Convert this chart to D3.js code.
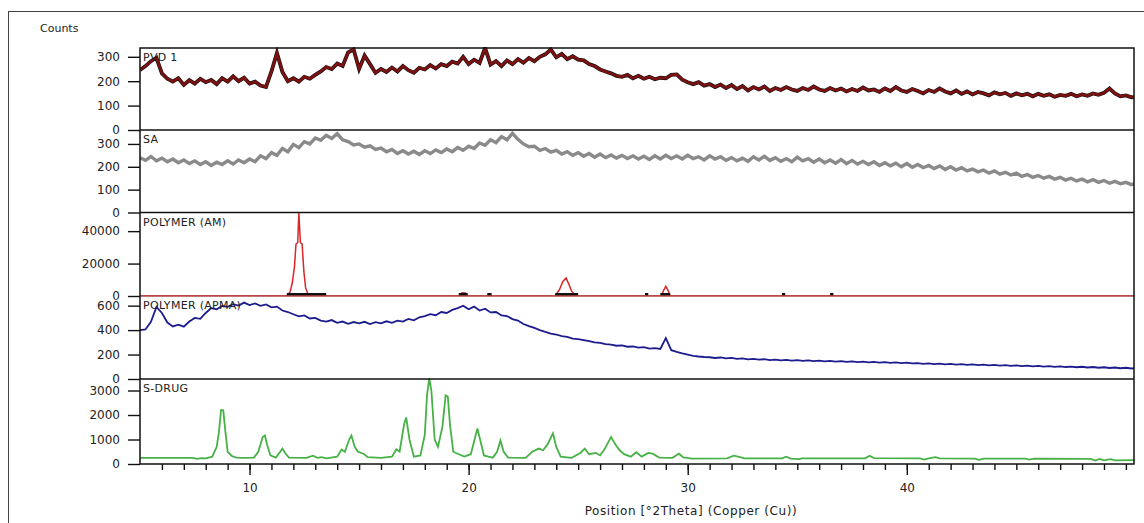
<!DOCTYPE html>
<html>
<head>
<meta charset="utf-8">
<script src="https://cdn.jsdelivr.net/npm/d3@7"></script>
<style>
  body { margin: 0; background: #fff; }
  text { font-family: "DejaVu Sans", sans-serif; fill: #222; }
</style>
</head>
<body>
<div id="chart"></div>
<script>
// scans, top to bottom
var panelNames = ["PVD 1", "SA", "POLYMER (AM)", "POLYMER (APMA)", "S-DRUG"];
var yMax = [336, 361, 51500, 679, 3470];
var yTicks = [[0, 100, 200, 300], [0, 100, 200, 300], [0, 20000, 40000], [0, 200, 400, 600], [0, 1000, 2000, 3000]];
var xMajorTicks = [10, 20, 30, 40];
var xMinorTicks = d3.range(6, 51);
var xTitle = "Position [°2Theta] (Copper (Cu))";
var yTitle = "Counts";

// noisy scans sampled every 0.25 °2Theta starting at 5
var scanStart = 5;
var scanStep = 0.25;

var pvd1 = [246, 262, 282, 296, 232, 210, 198, 212, 185, 204, 190, 210, 196, 205, 188, 212, 198, 220, 200, 214,
  190, 198, 182, 176, 240, 316, 238, 200, 212, 198, 218, 210, 226, 240, 258, 250, 272, 262, 318, 330,
  250, 305, 270, 234, 250, 238, 256, 240, 262, 245, 235, 255, 248, 266, 252, 270, 262, 280, 272, 300,
  270, 288, 275, 336, 268, 282, 262, 285, 270, 290, 276, 295, 282, 300, 310, 330, 298, 312, 290, 302,
  288, 285, 270, 262, 248, 240, 232, 222, 218, 226, 212, 222, 210, 218, 208, 214, 212, 226, 228, 206,
  196, 188, 196, 182, 188, 176, 186, 172, 184, 168, 180, 162, 176, 166, 178, 160, 172, 164, 176, 166,
  160, 172, 164, 178, 166, 160, 172, 162, 170, 158, 168, 160, 174, 162, 166, 156, 170, 160, 176, 162,
  156, 168, 160, 150, 164, 156, 170, 158, 150, 162, 148, 158, 146, 156, 150, 142, 154, 146, 152, 140,
  150, 142, 148, 138, 148, 140, 146, 136, 144, 140, 148, 138, 146, 140, 150, 144, 152, 170, 150, 138,
  142, 134, 136];

var sa = [240, 228, 245, 226, 238, 222, 234, 218, 230, 214, 226, 210, 222, 206, 220, 210, 226, 212, 230, 218,
  234, 222, 248, 236, 262, 250, 280, 266, 298, 284, 310, 300, 326, 316, 338, 324, 345, 318, 310, 296,
  300, 286, 292, 276, 282, 266, 276, 258, 270, 256, 268, 254, 270, 258, 274, 262, 278, 266, 284, 272,
  290, 280, 304, 294, 318, 306, 332, 318, 346, 320, 300, 288, 290, 272, 280, 264, 272, 256, 266, 250,
  262, 246, 258, 242, 256, 240, 252, 238, 250, 236, 248, 234, 246, 232, 248, 234, 250, 236, 248, 234,
  250, 236, 244, 230, 248, 234, 244, 228, 240, 226, 238, 224, 244, 230, 246, 228, 240, 224, 236, 222,
  242, 226, 236, 220, 234, 218, 230, 216, 232, 214, 228, 212, 224, 210, 222, 206, 218, 204, 216, 200,
  214, 198, 210, 196, 206, 192, 204, 188, 200, 186, 196, 182, 190, 178, 186, 172, 182, 168, 176, 164,
  172, 158, 166, 154, 162, 150, 158, 146, 154, 142, 150, 138, 146, 134, 144, 132, 140, 128, 136, 126,
  132, 122, 128];

var apma = [400, 405, 468, 590, 540, 462, 430, 445, 428, 470, 500, 492, 540, 580, 570, 598, 590, 612, 600, 625,
  605, 618, 598, 610, 586, 592, 560, 548, 530, 512, 520, 495, 500, 478, 470, 482, 460, 470, 452, 466,
  455, 468, 450, 465, 456, 472, 460, 478, 470, 492, 480, 505, 515, 530, 522, 548, 540, 565, 580, 600,
  570, 592, 560, 575, 545, 548, 520, 515, 490, 478, 450, 432, 418, 400, 385, 372, 364, 350, 345, 330,
  326, 318, 310, 300, 296, 286, 282, 272, 275, 264, 266, 256, 260, 248, 252, 246, 335, 236, 222, 210,
  200, 190, 184, 180, 178, 172, 176, 168, 172, 164, 168, 160, 164, 158, 162, 154, 158, 152, 156, 150,
  154, 148, 152, 146, 150, 144, 148, 142, 146, 140, 144, 138, 142, 136, 140, 134, 138, 132, 136, 130,
  134, 128, 130, 124, 128, 122, 126, 120, 124, 118, 122, 116, 120, 114, 118, 112, 116, 110, 114, 108,
  112, 106, 110, 104, 108, 102, 106, 100, 104, 98, 102, 96, 100, 94, 98, 92, 96, 90, 94, 88,
  92, 86, 90];

// crystalline scans, [°2Theta, counts]
var polymerAM = [[5, 0], [11.7, 0], [11.85, 2500], [11.95, 8000], [12.05, 18000], [12.12, 32000], [12.2, 33000],
  [12.25, 51500], [12.32, 33000], [12.4, 32000], [12.48, 15000], [12.56, 5000], [12.7, 0],
  [19.55, 0], [19.7, 2000], [19.85, 1800], [20.0, 0],
  [23.95, 0], [24.15, 4000], [24.3, 9000], [24.45, 11000], [24.55, 8000], [24.7, 3000], [24.9, 0],
  [28.8, 0], [28.9, 3500], [29.0, 6000], [29.1, 3500], [29.2, 0], [50.4, 0]];

// reference peak markers on the POLYMER (AM) baseline, [from, to]
var amMarkers = [[11.7, 13.5], [19.55, 19.95], [20.85, 21.05], [23.95, 25.0], [28.05, 28.2], [28.75, 29.2],
  [34.3, 34.45], [36.5, 36.65]];

var sDrug = [[5.0, 250], [7.4, 250], [7.6, 210], [7.8, 240], [8.0, 230], [8.3, 300], [8.5, 700], [8.6, 1290],
  [8.7, 2200], [8.8, 2200], [8.9, 1300], [9.0, 500], [9.2, 320], [9.4, 260], [9.7, 250], [10.2, 260],
  [10.4, 500], [10.6, 1100], [10.7, 1160], [10.8, 800], [10.95, 350], [11.2, 260], [11.4, 500], [11.5, 630],
  [11.65, 420], [11.8, 260], [12.6, 250], [12.9, 340], [13.1, 250], [13.3, 280], [13.5, 230], [14.0, 300],
  [14.2, 590], [14.35, 500], [14.55, 1000], [14.65, 1160], [14.8, 700], [14.95, 500], [15.2, 420], [15.4, 280],
  [16.0, 250], [16.5, 300], [16.7, 600], [16.85, 500], [17.05, 1600], [17.15, 1900], [17.3, 1000], [17.5, 300],
  [17.8, 350], [18.0, 1200], [18.1, 2800], [18.2, 3500], [18.3, 3000], [18.45, 1000], [18.6, 700], [18.8, 1500],
  [18.95, 2800], [19.05, 2750], [19.15, 1600], [19.3, 500], [19.5, 420], [19.8, 300], [20.1, 400], [20.3, 1100],
  [20.4, 1450], [20.55, 900], [20.7, 350], [20.9, 300], [21.1, 260], [21.3, 500], [21.45, 960], [21.6, 500],
  [21.8, 260], [22.6, 250], [22.9, 500], [23.2, 630], [23.4, 560], [23.6, 800], [23.85, 1250], [24.0, 700],
  [24.2, 300], [24.7, 250], [25.1, 450], [25.3, 630], [25.5, 400], [25.8, 450], [26.0, 350], [26.2, 600],
  [26.5, 1100], [26.7, 800], [26.9, 550], [27.1, 400], [27.4, 300], [27.65, 480], [27.9, 300], [28.2, 450],
  [28.4, 420], [28.7, 260], [29.3, 250], [29.6, 420], [29.8, 270], [30.2, 220], [31.8, 230], [32.1, 340],
  [32.3, 300], [32.6, 230], [34.3, 230], [34.5, 300], [34.7, 220], [35.1, 200], [35.2, 230], [38.1, 230],
  [38.3, 340], [38.5, 240], [40.6, 230], [40.8, 180], [41.0, 230], [41.3, 280], [41.5, 230], [43.1, 220],
  [43.3, 170], [43.5, 220], [45.4, 220], [45.6, 180], [45.8, 220], [48.4, 210], [48.6, 140], [48.8, 210],
  [49.0, 150], [49.3, 200], [49.5, 150], [50.4, 160]];

function sampled(values) {
  return values.map(function(v, i) { return [scanStart + i * scanStep, v]; });
}

var panelData = [sampled(pvd1), sampled(sa), polymerAM, sampled(apma), sDrug];
var panelColors = ["#7d1111", "#8a8a8a", "#d8262a", "#1c1c8e", "#46b246"];
var panelWidths = [2.6, 3.4, 1.5, 1.8, 1.8];

// layout
var width = 1144;
var height = 523;
var left = 140, right = 1134;
var panelEdges = [48, 130, 212.5, 296, 379, 464];

var svg = d3.select('#chart')
  .append('svg')
  .attr('width', width)
  .attr('height', height);

// outer frame of the figure
svg.append('rect')
  .attr('x', 8.5).attr('y', 11.5)
  .attr('width', 1200).attr('height', 600)
  .attr('fill', 'none')
  .attr('stroke', '#444')
  .attr('stroke-width', 1);

var x = d3.scaleLinear().domain([5, 50.37]).range([left, right]);

var line = d3.line()
  .x(function(d) { return x(d[0]); });

panelNames.forEach(function(name, i) {
  var top = panelEdges[i], bottom = panelEdges[i + 1];
  var y = d3.scaleLinear().domain([0, yMax[i]]).range([bottom, top]);

  svg.append('clipPath')
    .attr('id', 'clip' + i)
    .append('rect')
    .attr('x', left).attr('y', top - 1)
    .attr('width', right - left).attr('height', bottom - top + 1);

  // y axis
  var yAxis = svg.append('g')
    .attr('transform', 'translate(' + left + ',0)')
    .call(d3.axisLeft(y).tickValues(yTicks[i]).tickSize(12).tickPadding(8).tickFormat(d3.format('d')));
  yAxis.select('.domain').remove();
  yAxis.selectAll('line').attr('stroke', '#111').attr('stroke-width', 1.4);
  yAxis.selectAll('text').style('font-size', '12px').attr('fill', '#222');

  var g = svg.append('g').attr('clip-path', 'url(#clip' + i + ')');

  line.y(function(d) { return y(d[1]); });

  // the first scan has a dark edge under the maroon trace
  if (i === 0) {
    g.append('path')
      .attr('d', line(panelData[i]))
      .attr('fill', 'none')
      .attr('stroke', '#111')
      .attr('stroke-width', 3.8)
      .attr('stroke-linejoin', 'miter');
  }

  g.append('path')
    .attr('d', line(panelData[i]))
    .attr('fill', 'none')
    .attr('stroke', panelColors[i])
    .attr('stroke-width', panelWidths[i])
    .attr('stroke-linejoin', 'miter');

  if (i === 2) {
    g.selectAll('.marker')
      .data(amMarkers)
      .enter()
      .append('line')
      .attr('x1', function(d) { return x(d[0]); })
      .attr('x2', function(d) { return x(d[1]); })
      .attr('y1', y(0) - 1.5)
      .attr('y2', y(0) - 1.5)
      .attr('stroke', '#111')
      .attr('stroke-width', 3);
    // baseline of the trace sits on the panel edge
    svg.append('line')
      .attr('x1', left).attr('x2', right)
      .attr('y1', y(0)).attr('y2', y(0))
      .attr('stroke', '#b04545')
      .attr('stroke-width', 1.6);
  }

  svg.append('text')
    .attr('x', left + 3)
    .attr('y', top + 13)
    .style('font-size', '11px')
    .style('letter-spacing', '0.3px')
    .text(name);
});

// panel frame and dividers
svg.append('rect')
  .attr('x', left).attr('y', panelEdges[0])
  .attr('width', right - left).attr('height', panelEdges[5] - panelEdges[0])
  .attr('fill', 'none')
  .attr('stroke', '#111')
  .attr('stroke-width', 1.5);

svg.selectAll('.divider')
  .data(panelEdges.slice(1, 5).filter(function(d, i) { return i !== 2; }))
  .enter()
  .append('line')
  .attr('x1', left).attr('x2', right)
  .attr('y1', function(d) { return d; })
  .attr('y2', function(d) { return d; })
  .attr('stroke', '#111')
  .attr('stroke-width', 1.5);

// x axis: minor ticks every degree, labelled ticks every ten
var xMinor = svg.append('g')
  .attr('transform', 'translate(0,' + panelEdges[5] + ')')
  .call(d3.axisBottom(x).tickValues(xMinorTicks).tickSize(6).tickFormat(''));
xMinor.select('.domain').remove();
xMinor.selectAll('line').attr('stroke', '#111').attr('stroke-width', 1.4);

var xMajor = svg.append('g')
  .attr('transform', 'translate(0,' + panelEdges[5] + ')')
  .call(d3.axisBottom(x).tickValues(xMajorTicks).tickSize(11).tickPadding(8));
xMajor.select('.domain').remove();
xMajor.selectAll('line').attr('stroke', '#111').attr('stroke-width', 1.4);
xMajor.selectAll('text').style('font-size', '12px').attr('fill', '#222');

svg.append('text')
  .attr('x', 691)
  .attr('y', 515)
  .attr('text-anchor', 'middle')
  .style('font-size', '12px')
  .style('letter-spacing', '0.6px')
  .text(xTitle);

svg.append('text')
  .attr('x', 40)
  .attr('y', 32)
  .style('font-size', '11px')
  .text(yTitle);
</script>
</body>
</html>
